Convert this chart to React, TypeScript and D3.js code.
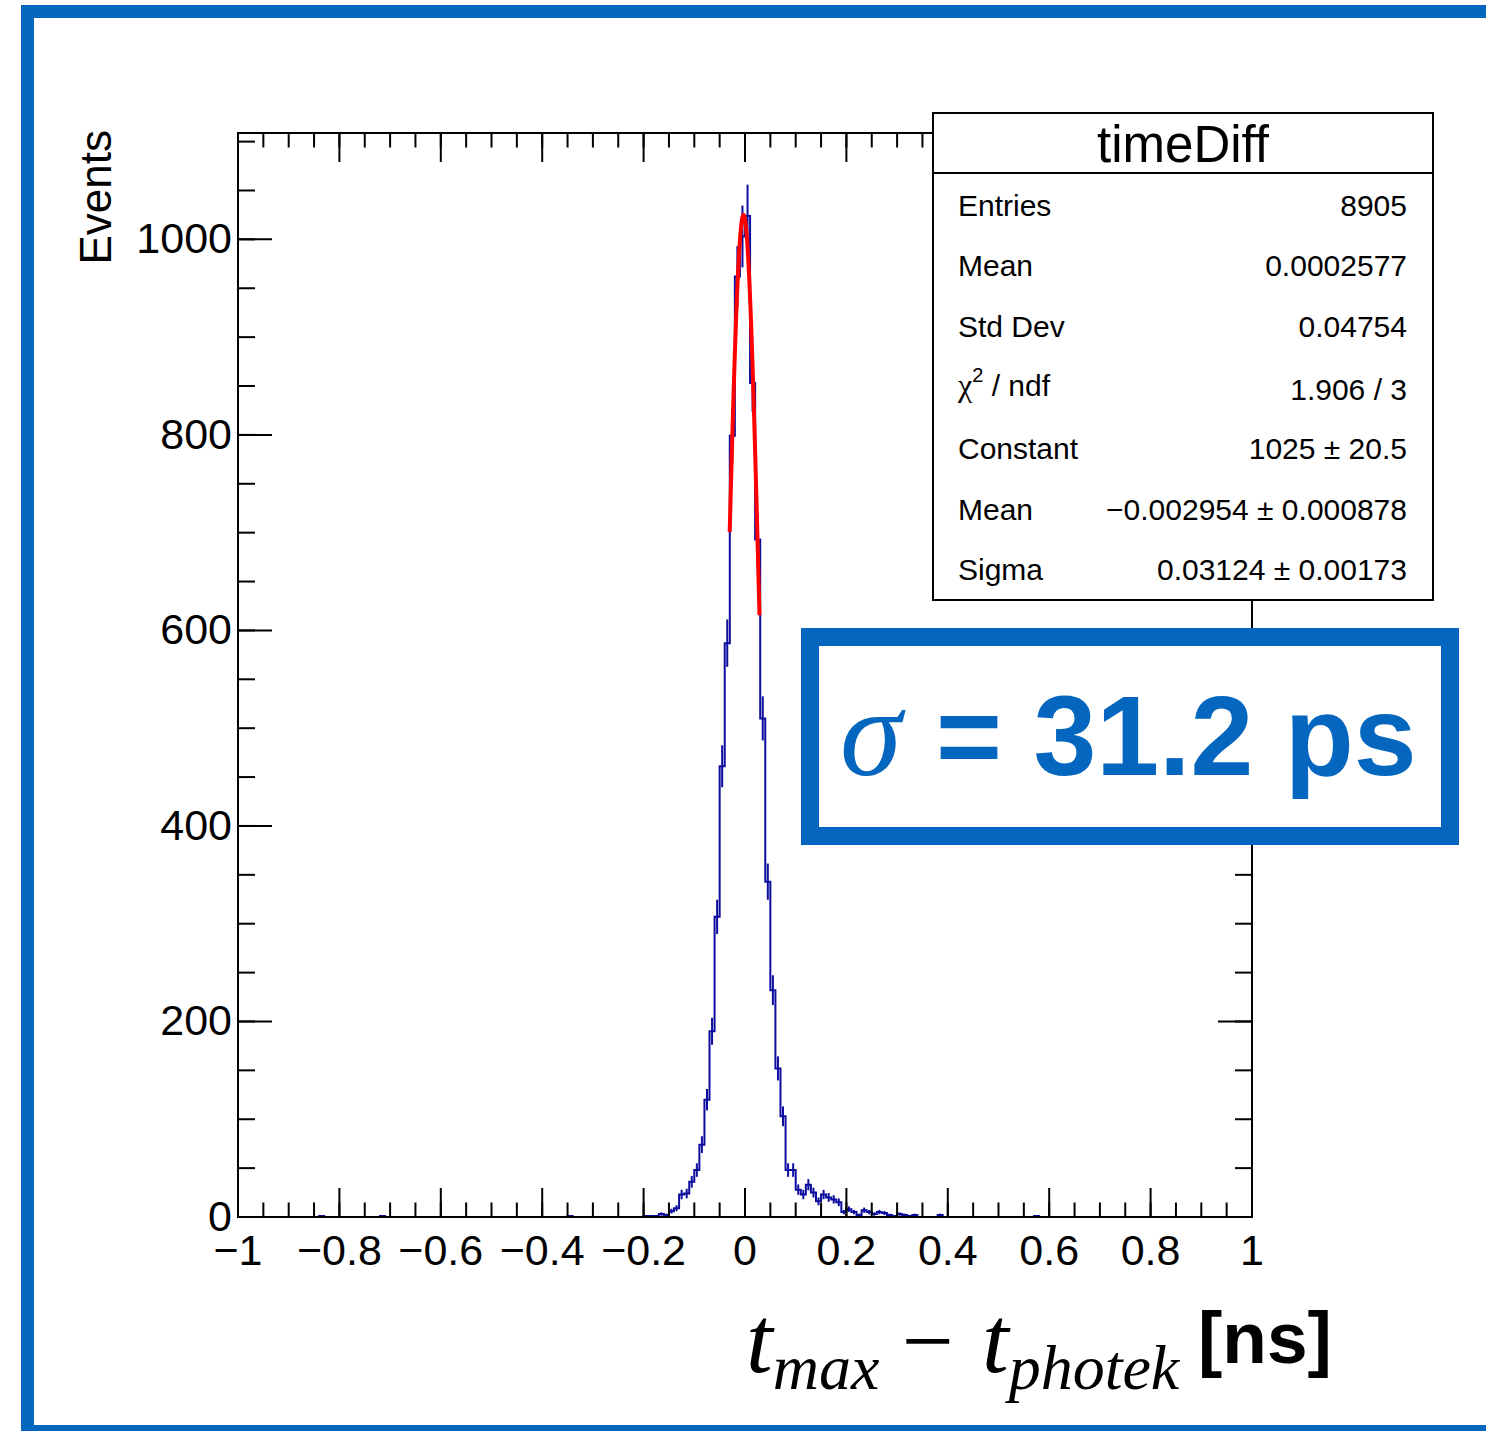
import React from 'react';
import * as d3 from 'd3';

const W = 1486, H = 1431;

// histogram: 200 bins of 0.01 ns from -1 to 1
const histRange: [number, number] = [-1, 1];
const binWidth = 0.01;
// filled part of the histogram, first bin starts at -0.20
const coreStart = -0.2;
const coreCounts = [
  1, 1, 1, 3, 2, 6, 9, 23, 24, 36, 48, 74, 120, 190, 307, 461, 587, 799, 962, 1003,
  1024, 853, 693, 510, 343, 232, 152, 103, 48, 48, 28, 23, 33, 25, 16, 23, 20, 18, 15, 5,
  8, 5, 2, 7, 5, 3, 5, 4, 2, 1, 3, 2, 1, 2, 0, 0, 0, 0, 2,
];
// lonely entries out in the tails (bin low edge / count)
const strayLows = [-0.84, -0.72, -0.35, 0.57];
const strayCounts = [1, 1, 1, 1];

// gaussian fit
const fitConstant = 1025;
const fitMean = -0.002954;
const fitSigma = 0.03124;
const fitRange = [-0.0302, 0.0286];

const statLabels = ['Entries', 'Mean', 'Std Dev', 'chi2', 'Constant', 'Mean', 'Sigma'];
const statValues = ['8905', '0.0002577', '0.04754', '1.906 / 3', '1025 ± 20.5', '\u22120.002954 ± 0.000878', '0.03124 ± 0.00173'];

const BLUE = '#0566c0';
const HIST = '#0c0c9e';
const SANS = '"Liberation Sans", Arial, Helvetica, sans-serif';
const SERIF = '"Liberation Serif", "Times New Roman", serif';

export default function App() {
  const nBins = Math.round((histRange[1] - histRange[0]) / binWidth);
  const counts = new Array(nBins).fill(0);
  const i0 = Math.round((coreStart - histRange[0]) / binWidth);
  coreCounts.forEach((c, i) => { counts[i0 + i] = c; });
  strayLows.forEach((lo, k) => { counts[Math.round((lo - histRange[0]) / binWidth)] += strayCounts[k]; });

  const left = 238, right = 1252, top = 133, bottom = 1217;
  const x = d3.scaleLinear().domain(histRange).range([left, right]);
  const yMax = 1.05 * (d3.max(counts, c => c + Math.sqrt(c)) || 1);
  const y = d3.scaleLinear().domain([0, yMax]).range([bottom, top]);

  const edges = counts.map((_, i) => histRange[0] + i * binWidth);
  const stepPts: [number, number][] = counts.map((c, i) => [edges[i], c]);
  stepPts.push([histRange[1], counts[nBins - 1]]);
  const histPath = d3.line<[number, number]>().x(d => x(d[0])).y(d => y(d[1])).curve(d3.curveStepAfter)(stepPts) || '';

  const errBars = counts
    .map((c, i) => ({ c, xc: edges[i] + binWidth / 2 }))
    .filter(d => d.c > 0);

  const fitXs = d3.range(0, 101).map(i => fitRange[0] + (i * (fitRange[1] - fitRange[0])) / 100);
  const fitPath = d3.line<number>()
    .x(v => x(v))
    .y(v => y(fitConstant * Math.exp(-0.5 * ((v - fitMean) / fitSigma) ** 2)))(fitXs) || '';

  const xMajor = x.ticks(10);
  const xMinor = x.ticks(40);
  const yMajor = y.ticks(5);
  const yMinor = y.ticks(20);
  const fmt = d3.format('~g');

  const xMajLen = 29, xMinLen = 14.5, yMajLen = 34, yMinLen = 17;

  // stats box
  const sb = { x0: 933, x1: 1433, y0: 113, y1: 600, sep: 173 };
  const rowBase0 = 215.5, rowStep = 60.8;

  return (
    <div style={{ position: 'absolute', left: 0, top: 0 }}>
      <svg width={W} height={H} viewBox={`0 0 ${W} ${H}`} style={{ display: 'block', background: '#fff' }}>
        <rect x={0} y={0} width={W} height={H} fill="#fff" />

        {/* histogram */}
        <path d={histPath} fill="none" stroke={HIST} strokeWidth={2} />
        {errBars.map((d, i) => (
          <line key={i} x1={x(d.xc)} x2={x(d.xc)} y1={y(d.c - Math.sqrt(d.c))} y2={y(d.c + Math.sqrt(d.c))}
            stroke={HIST} strokeWidth={2} />
        ))}

        {/* fit */}
        <path d={fitPath} fill="none" stroke="#ff0000" strokeWidth={4} />

        {/* ticks */}
        <g stroke="#000" strokeWidth={2}>
          {xMinor.map(t => (
            <g key={'xm' + t}>
              <line x1={x(t)} x2={x(t)} y1={bottom} y2={bottom - xMinLen} />
              <line x1={x(t)} x2={x(t)} y1={top} y2={top + xMinLen} />
            </g>
          ))}
          {xMajor.map(t => (
            <g key={'xM' + t}>
              <line x1={x(t)} x2={x(t)} y1={bottom} y2={bottom - xMajLen} />
              <line x1={x(t)} x2={x(t)} y1={top} y2={top + xMajLen} />
            </g>
          ))}
          {yMinor.map(t => (
            <g key={'ym' + t}>
              <line x1={left} x2={left + yMinLen} y1={y(t)} y2={y(t)} />
              <line x1={right} x2={right - yMinLen} y1={y(t)} y2={y(t)} />
            </g>
          ))}
          {yMajor.map(t => (
            <g key={'yM' + t}>
              <line x1={left} x2={left + yMajLen} y1={y(t)} y2={y(t)} />
              <line x1={right} x2={right - yMajLen} y1={y(t)} y2={y(t)} />
            </g>
          ))}
        </g>
        <rect x={left} y={top} width={right - left} height={bottom - top} fill="none" stroke="#000" strokeWidth={2} />

        {/* tick labels */}
        <g fontFamily={SANS} fontSize={43} fill="#000">
          {xMajor.map(t => (
            <text key={'xl' + t} x={x(t)} y={bottom + 48} textAnchor="middle">{fmt(t)}</text>
          ))}
          {yMajor.map(t => (
            <text key={'yl' + t} x={232} y={y(t) + 14} textAnchor="end">{fmt(t)}</text>
          ))}
        </g>

        {/* axis titles */}
        <text transform="translate(111,130) rotate(-90)" textAnchor="end" fontFamily={SANS} fontSize={44}>Events</text>
        <text x={746} y={1372} fontFamily={SERIF} fontStyle="italic" fontSize={96} fill="#000">
          t<tspan fontSize={64} dy={17}>max</tspan>
          <tspan fontSize={92} fontStyle="normal" dy={-17} x={902}>{'\u2212'}</tspan>
          <tspan fontSize={96} x={982}>t</tspan>
          <tspan fontSize={64} dy={17}>photek</tspan>
        </text>
        <text x={1198} y={1363} fontFamily={SANS} fontWeight="bold" fontSize={73}>[ns]</text>

        {/* stats box */}
        <rect x={sb.x0} y={sb.y0} width={sb.x1 - sb.x0} height={sb.y1 - sb.y0} fill="#fff" stroke="#000" strokeWidth={2} />
        <line x1={sb.x0} x2={sb.x1} y1={sb.sep} y2={sb.sep} stroke="#000" strokeWidth={2} />
        <text x={(sb.x0 + sb.x1) / 2} y={162} textAnchor="middle" fontFamily={SANS} fontSize={51}>timeDiff</text>
        <g fontFamily={SANS} fontSize={30} fill="#000">
          {statLabels.map((lab, i) => (
            lab === 'chi2' ? (
              <text key={'sl' + i} x={958} y={rowBase0 + i * rowStep - 2}>
                <tspan fontFamily={SERIF} fontSize={32}>χ</tspan>
                <tspan fontSize={20} dy={-14}>2</tspan>
                <tspan dy={14}> / ndf</tspan>
              </text>
            ) : (
              <text key={'sl' + i} x={958} y={rowBase0 + i * rowStep}>{lab}</text>
            )
          ))}
          {statValues.map((v, i) => (
            <text key={'sv' + i} x={1407} y={rowBase0 + i * rowStep + (i === 3 ? 2 : 0)} textAnchor="end">{v}</text>
          ))}
        </g>

        {/* sigma box */}
        <rect x={810} y={637} width={640} height={199} fill="#fff" stroke={BLUE} strokeWidth={18} />
        <text x={840} y={775} fontFamily={SERIF} fontStyle="italic" fontSize={125} fill={BLUE}>σ</text>
        <text x={936} y={775} fontFamily={SANS} fontWeight="bold" fontSize={113} fill={BLUE}>= 31.2 ps</text>

        {/* outer blue frame */}
        <rect x={27.5} y={11.5} width={1500} height={1420} fill="none" stroke={BLUE} strokeWidth={13} />
      </svg>
    </div>
  );
}
